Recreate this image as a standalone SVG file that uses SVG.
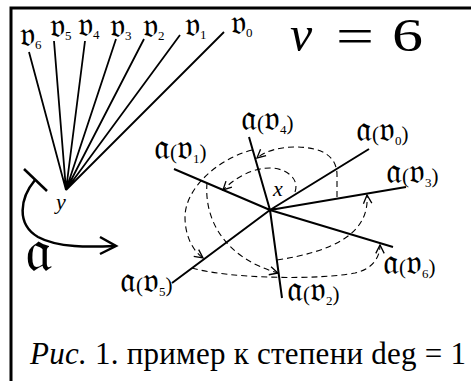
<svg xmlns="http://www.w3.org/2000/svg" width="471" height="381" viewBox="0 0 471 381">
<style>
.frame{fill:none;stroke:#000;stroke-width:3}
.fan{stroke:#000;stroke-width:1.8;fill:none}
.ray{stroke:#000;stroke-width:2;fill:none}
.dash{stroke:#000;stroke-width:1.1;fill:none;stroke-dasharray:6 4}
.lab{font-family:"Liberation Serif",serif;font-size:21px;fill:#000}
.fk{font-family:"DejaVu Serif","DejaVu Sans","Noto Sans",serif;font-size:36px}
.fv{font-family:"DejaVu Serif","DejaVu Sans","Noto Sans",serif;font-size:35px;fill:#000}
.big{font-family:"DejaVu Serif","DejaVu Sans","Noto Sans",serif;font-size:62px;fill:#000}
.sub{font-family:"Liberation Serif",serif;font-size:13px}
.it{font-family:"Liberation Serif",serif;font-style:italic;fill:#000}
.rm{font-family:"Liberation Serif",serif;fill:#000}
</style>
<defs>
<marker id="ah" markerUnits="userSpaceOnUse" markerWidth="12" markerHeight="12" refX="0" refY="0" viewBox="-8 -5 10 10" orient="auto">
<path d="M-7,-3.5 L0,0 L-7,3.5" fill="none" stroke="#000" stroke-width="1.1"/>
</marker>
</defs>
<path class="frame" d="M11,381 V8 H471"/>

<g id="fan">
<path class="fan" d="M66,190 L29,52 M66,190 L54,41 M66,190 L85,41 M66,190 L116,39 M66,190 L144,39 M66,190 L180,35 M66,190 L224,32"/>
</g>
<g id="fan-labels">
<text class="fv" x="20" y="46">𝔳<tspan class="sub" dy="3">6</tspan></text>
<text class="fv" x="50" y="37">𝔳<tspan class="sub" dy="3">5</tspan></text>
<text class="fv" x="78" y="36">𝔳<tspan class="sub" dy="3">4</tspan></text>
<text class="fv" x="110" y="37">𝔳<tspan class="sub" dy="3">3</tspan></text>
<text class="fv" x="143" y="37">𝔳<tspan class="sub" dy="3">2</tspan></text>
<text class="fv" x="185" y="36">𝔳<tspan class="sub" dy="3">1</tspan></text>
<text class="fv" x="231" y="34">𝔳<tspan class="sub" dy="3">0</tspan></text>
</g>
<g id="y">
<text class="it" x="56" y="209" style="font-size:22px">y</text>
</g>

<g id="map-arrow">
<path d="M24,169 L47,191" stroke="#000" stroke-width="2.5" fill="none"/>
<path d="M35,180 C 20,198 16,224 38,237 C 58,248 90,247 115,246" stroke="#000" stroke-width="2.5" fill="none"/>
<path d="M100,237 L116,246 L100,254" stroke="#000" stroke-width="2.5" fill="none"/>
<text class="big" x="25" y="271">𝔞</text>
</g>

<g id="nu">
<text class="it" x="290" y="51" style="font-size:50px">ν</text>
<text class="rm" x="336" y="53" style="font-size:50px" textLength="38" lengthAdjust="spacingAndGlyphs">=</text>
<text class="rm" x="392" y="51" style="font-size:46px" textLength="31" lengthAdjust="spacingAndGlyphs">6</text>
</g>

<g id="rays">
<path class="ray" d="M270,210 L369,149 M270,210 L174,169 M270,210 L282,298 M270,210 L406,187 M270,210 L249,137 M270,210 L172,283 M270,210 L393,247"/>
</g>

<g id="connectors">
<path class="dash" marker-end="url(#ah)" d="M295,192 C 300,178 285,168 270,168 C 252,168 235,178 223,190"/>
<path class="dash" marker-end="url(#ah)" d="M207,183 C 204,220 225,258 278,273"/>
<path class="dash" marker-end="url(#ah)" d="M277,260 C 330,252 370,235 367,195"/>
<path class="dash" marker-end="url(#ah)" d="M337,197 V175 C 337,155 320,147 295,147 C 280,147 265,151 257,158"/>
<path class="dash" marker-end="url(#ah)" d="M252,150 C 215,160 185,190 185,217 C 185,235 192,250 203,258"/>
<path class="dash" marker-end="url(#ah)" d="M192,268 C 230,279 320,280 355,273 C 372,269 380,258 380,245"/>
</g>

<g id="a-v0"><text class="lab" x="356" y="141"><tspan class="fk">𝔞</tspan>(<tspan class="fk">𝔳</tspan><tspan class="sub" dy="4">0</tspan><tspan dy="-4">)</tspan></text></g>
<g id="a-v1"><text class="lab" x="154" y="159"><tspan class="fk">𝔞</tspan>(<tspan class="fk">𝔳</tspan><tspan class="sub" dy="4">1</tspan><tspan dy="-4">)</tspan></text></g>
<g id="a-v2"><text class="lab" x="287" y="301"><tspan class="fk">𝔞</tspan>(<tspan class="fk">𝔳</tspan><tspan class="sub" dy="4">2</tspan><tspan dy="-4">)</tspan></text></g>
<g id="a-v3"><text class="lab" x="386" y="183"><tspan class="fk">𝔞</tspan>(<tspan class="fk">𝔳</tspan><tspan class="sub" dy="4">3</tspan><tspan dy="-4">)</tspan></text></g>
<g id="a-v4"><text class="lab" x="241" y="130"><tspan class="fk">𝔞</tspan>(<tspan class="fk">𝔳</tspan><tspan class="sub" dy="4">4</tspan><tspan dy="-4">)</tspan></text></g>
<g id="a-v5"><text class="lab" x="120" y="292"><tspan class="fk">𝔞</tspan>(<tspan class="fk">𝔳</tspan><tspan class="sub" dy="4">5</tspan><tspan dy="-4">)</tspan></text></g>
<g id="a-v6"><text class="lab" x="383" y="274"><tspan class="fk">𝔞</tspan>(<tspan class="fk">𝔳</tspan><tspan class="sub" dy="4">6</tspan><tspan dy="-4">)</tspan></text></g>
<g id="x"><text class="it" x="273" y="196" style="font-size:22px">x</text></g>

<g id="caption">
<text class="rm" x="30" y="364" style="font-size:31px" textLength="436" lengthAdjust="spacing"><tspan style="font-style:italic">Рис.</tspan> 1. пример к степени deg = 1</text>
</g>
</svg>
